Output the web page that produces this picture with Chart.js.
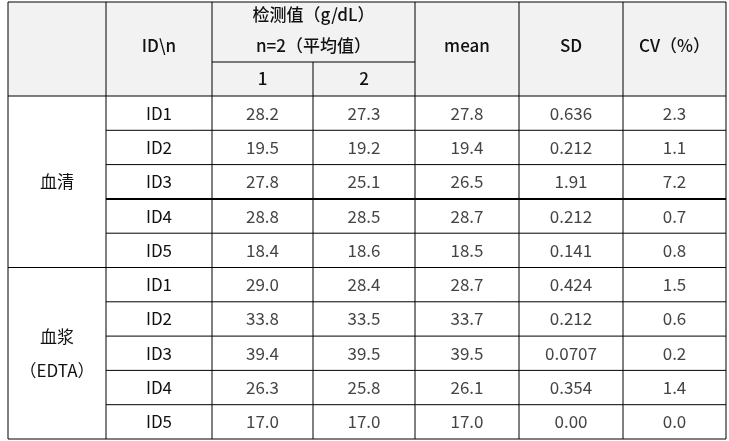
<!DOCTYPE html>
<html><head><meta charset="utf-8">
<script src="https://cdn.jsdelivr.net/npm/chart.js@4"></script>
<style>html,body{margin:0;padding:0;background:#fff}</style>
</head><body>
<canvas id="c" width="729" height="441"></canvas>
<script>
const groups = ["血清", "血浆\n（EDTA）"];
const ids = ["ID1","ID2","ID3","ID4","ID5","ID1","ID2","ID3","ID4","ID5"];
const val1 = ["28.2","19.5","27.8","28.8","18.4","29.0","33.8","39.4","26.3","17.0"];
const val2 = ["27.3","19.2","25.1","28.5","18.6","28.4","33.5","39.5","25.8","17.0"];
const means = ["27.8","19.4","26.5","28.7","18.5","28.7","33.7","39.5","26.1","17.0"];
const sds = ["0.636","0.212","1.91","0.212","0.141","0.424","0.212","0.0707","0.354","0.00"];
const cvs = ["2.3","1.1","7.2","0.7","0.8","1.5","0.6","0.2","1.4","0.0"];
const headers = ["ID\\n","检测值（g/dL）","n=2（平均值）","1","2","mean","SD","CV（%）"];

const colX = [8,106,212,313,415,519,623,726];
const rowY = [96,130.3,164.6,198.9,233.2,267.5,301.8,336.1,370.4,404.7,439];
const tableTop = 2, midH = 62;
const font = '"Noto Sans CJK JP","Noto Sans CJK SC",sans-serif';

const tablePlugin = {
  id:'table',
  afterDraw(chart){
    const ctx = chart.ctx, xs = chart.scales.x, ys = chart.scales.y;
    const X = v=>xs.getPixelForValue(v), Y = v=>ys.getPixelForValue(v);
    ctx.save();
    ctx.fillStyle = '#f2f2f2';
    ctx.fillRect(X(colX[0]),Y(tableTop),X(colX[7])-X(colX[0]),Y(rowY[0])-Y(tableTop));
    const line=(x1,y1,x2,y2,w)=>{ctx.lineWidth=w||1;ctx.strokeStyle='#000';ctx.beginPath();ctx.moveTo(X(x1),Y(y1));ctx.lineTo(X(x2),Y(y2));ctx.stroke();};
    line(colX[0],tableTop,colX[7],tableTop); line(colX[0],rowY[10],colX[7],rowY[10]);
    colX.forEach((c,i)=>{
      if(i===3) line(c,midH,c,rowY[10]); else line(c,tableTop,c,rowY[10]);
    });
    line(colX[2],midH,colX[4],midH);
    rowY.slice(0,10).forEach((r,i)=>{
      const start = (i===0||i===5)?colX[0]:colX[1];
      line(start,r,colX[7],r,(i===3)?2:1);
    });
    ctx.textAlign='center'; ctx.textBaseline='middle';
    const txt=(s,x,y,col,bold)=>{ctx.fillStyle=col;ctx.font=(bold?'500 ':'')+'17px '+font;ctx.fillText(s,X(x),Y(y));};
    const cx=i=>(colX[i]+colX[i+1])/2;
    const hc='#111';
    txt(headers[0],cx(1),46,hc,true);
    txt(headers[1],(colX[2]+colX[4])/2,15,hc,true);
    txt(headers[2],(colX[2]+colX[4])/2,46,hc,true);
    txt(headers[3],cx(2),79,hc,true);
    txt(headers[4],cx(3),79,hc,true);
    txt(headers[5],cx(4),46,hc,true);
    txt(headers[6],cx(5),46,hc,true);
    txt(headers[7],cx(6),46,hc,true);
    txt(groups[0],cx(0),(rowY[0]+rowY[5])/2,hc);
    const g2=groups[1].split('\n');
    txt(g2[0],cx(0),(rowY[5]+rowY[10])/2-17,hc);
    txt(g2[1],cx(0),(rowY[5]+rowY[10])/2+17,hc);
    const cols=[ids,val1,val2,means,sds,cvs];
    for(let r=0;r<10;r++){
      const yc=(rowY[r]+rowY[r+1])/2;
      cols.forEach((arr,j)=>txt(arr[r],cx(j+1),yc,j===0?'#111':'#444'));
    }
    ctx.restore();
  }
};
new Chart(document.getElementById('c'),{
  type:'scatter',
  data:{datasets:[{data:[]}]},
  options:{responsive:false,animation:false,layout:{padding:0},
    plugins:{legend:{display:false},tooltip:{enabled:false}},
    scales:{x:{type:'linear',min:0,max:729,display:false},
            y:{type:'linear',min:0,max:441,reverse:true,display:false}}},
  plugins:[tablePlugin]
});
</script>
</body></html>
